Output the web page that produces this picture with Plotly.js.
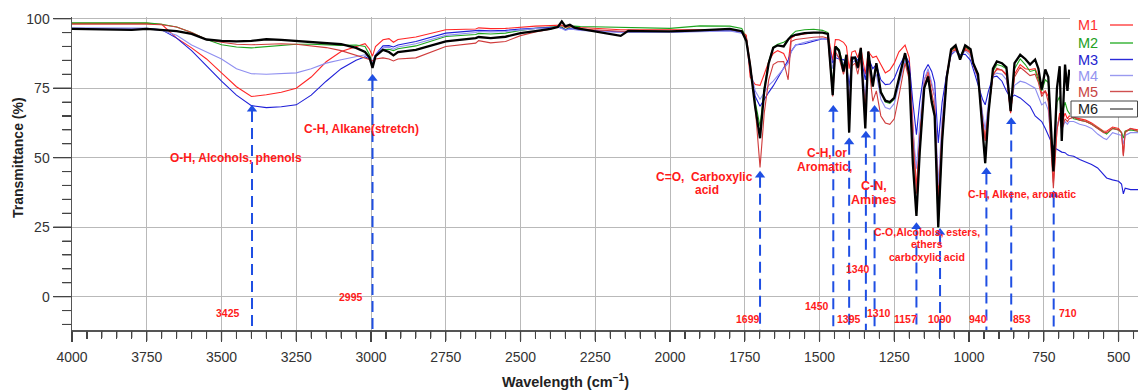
<!DOCTYPE html>
<html><head><meta charset="utf-8">
<script src="https://cdn.plot.ly/plotly-3.0.1.min.js"></script>
<style>html,body{margin:0;padding:0;background:#fff}#chart{width:1138px;height:390px}</style>
</head><body><div id="chart"></div>
<script>
// ---------------- DATA ----------------
const WAVENUMBER = [
 4000, 3900, 3800, 3750, 3700, 3650, 3600, 3550, 3500, 3450,
 3400, 3350, 3300, 3250, 3200, 3150, 3100, 3050, 3020, 3005,
 2995, 2985, 2960, 2940, 2925, 2910, 2850, 2750, 2650, 2640,
 2600, 2550, 2500, 2450, 2400, 2375, 2362, 2350, 2335, 2320,
 2300, 2165, 2140, 2100, 2000, 1900, 1800, 1760,
 1745, 1732, 1715, 1699, 1685, 1670, 1655, 1640, 1620, 1605,
 1595, 1580, 1550, 1520, 1490, 1472, 1456, 1447, 1435, 1420,
 1410, 1401, 1392, 1381, 1372, 1362, 1347, 1337, 1322, 1310,
 1295, 1280, 1265, 1250, 1235, 1214, 1200, 1188, 1176, 1165,
 1150, 1137, 1125, 1115, 1103, 1090, 1075, 1060, 1045, 1030,
 1013, 995, 986, 970, 955, 946, 935, 920, 907, 890,
 875, 861, 848, 829, 812, 796, 779, 768, 757, 745,
 735, 718, 706, 697, 690, 679, 671, 665,
 650, 630, 610, 590, 570, 550, 540, 520, 500, 490, 484, 478, 460, 435
];
const M1 = [
 98.3, 98.3, 98.4, 98.3, 98.0, 93.0, 89.5, 85.5, 80.5, 75.5,
 72.0, 72.6, 73.5, 75.0, 79.0, 84.5, 88.2, 90.0, 91.0, 89.0,
 86.5, 90.0, 92.4, 92.8, 91.5, 92.5, 93.4, 96.0, 96.3, 96.7,
 96.4, 96.5, 97.0, 97.3, 97.5, 97.8, 97.7, 97.2, 97.4, 97.0,
 96.8, 96.0, 96.0, 95.8, 95.8, 96.0, 96.2, 95.5,
 94.0, 79.0, 76.3, 76.0, 80.0, 84.5, 87.5, 88.5, 87.5, 84.0,
 93.0, 94.0, 94.5, 95.0, 95.0, 94.5, 85.0, 92.5, 92.4, 91.5,
 90.0, 82.0, 88.0, 88.5, 86.0, 89.5, 80.0, 88.2, 86.0, 86.5,
 83.5, 80.5, 81.5, 84.0, 88.0, 90.5, 86.0, 62.0, 39.0, 58.0,
 78.0, 81.0, 76.0, 72.0, 35.0, 62.0, 80.0, 88.5, 89.5, 86.5,
 89.5, 88.0, 84.0, 80.0, 65.0, 56.0, 68.0, 80.0, 81.7, 81.5,
 80.0, 66.0, 80.0, 83.5, 82.0, 81.7, 82.0, 79.0, 73.0, 74.0,
 72.0, 41.0, 60.0, 66.0, 62.0, 66.0, 64.0, 65.0,
 64.5, 64.0, 63.5, 62.5, 61.0, 59.5, 59.5, 61.0, 60.5, 59.0, 51.0, 59.5, 60.5, 60.0
];
const M2 = [
 98.5, 98.5, 98.6, 98.5, 98.0, 97.0, 95.0, 92.5, 90.6, 89.8,
 89.5, 90.0, 90.3, 90.8, 90.8, 90.6, 90.4, 90.5, 90.0, 87.0,
 84.0, 86.5, 88.8, 89.0, 88.5, 89.2, 90.2, 93.6, 94.3, 94.7,
 94.5, 94.8, 95.8, 96.5, 96.8, 97.2, 97.0, 96.0, 97.0, 97.3,
 97.2, 96.8, 96.9, 96.8, 96.5, 97.4, 97.3, 96.5,
 93.0, 83.0, 70.0, 61.3, 75.0, 84.5, 89.8, 90.8, 91.5, 92.5,
 94.0, 95.5, 96.0, 96.2, 95.8, 95.0, 76.0, 90.0, 89.0, 83.0,
 87.0, 62.0, 85.0, 86.0, 82.0, 88.5, 63.0, 87.5, 76.0, 84.0,
 74.0, 70.0, 69.5, 71.0, 78.0, 87.0, 80.0, 50.0, 30.0, 52.0,
 75.0, 79.0, 71.0, 66.0, 24.8, 56.0, 78.0, 88.5, 90.0, 86.5,
 90.0, 88.5, 84.0, 80.0, 60.0, 48.0, 66.0, 81.0, 83.5, 83.0,
 82.0, 67.0, 82.0, 85.5, 83.5, 81.0, 81.5, 78.0, 74.0, 78.0,
 77.0, 46.0, 70.0, 72.0, 65.0, 70.0, 67.0, 66.0,
 64.0, 63.5, 63.0, 62.0, 60.5, 59.0, 58.5, 60.5, 60.0, 59.0, 57.0, 59.5, 60.0, 59.5
];
const M3 = [
 96.5, 96.5, 96.6, 96.5, 96.0, 93.0, 88.5, 83.0, 77.5, 72.5,
 68.7, 68.0, 68.3, 69.0, 72.5, 77.5, 82.0, 85.0, 86.3, 85.5,
 84.5, 87.0, 90.2, 90.3, 89.8, 90.5, 91.8, 94.8, 95.5, 95.8,
 95.6, 95.8, 96.3, 96.6, 96.8, 97.0, 96.6, 96.0, 96.4, 96.2,
 96.0, 95.2, 95.3, 95.3, 95.2, 95.5, 95.8, 95.0,
 93.0, 82.0, 72.0, 68.5, 71.0, 73.5, 75.8, 78.5, 82.3, 85.0,
 88.2, 90.5, 91.0, 92.0, 92.8, 92.5, 84.0, 86.0, 85.5, 85.3,
 84.0, 75.6, 85.0, 86.3, 85.0, 86.5, 78.0, 86.0, 82.0, 83.5,
 78.0, 76.3, 76.5, 78.5, 82.5, 87.0, 84.0, 70.0, 58.3, 70.0,
 81.0, 83.5, 81.0, 77.0, 55.3, 70.0, 80.0, 87.0, 88.5, 87.0,
 87.2, 85.0, 82.0, 76.0, 71.0, 69.0, 74.0, 79.0, 79.3, 77.5,
 74.0, 71.5, 72.5, 71.5, 70.0, 68.5, 65.0, 64.0, 63.0, 60.5,
 58.0, 54.0, 53.0, 52.3, 52.0, 51.8, 51.0, 50.8,
 50.5, 49.3, 48.5, 47.5, 46.3, 44.0, 42.7, 42.0, 41.5, 40.5, 37.0, 39.0, 38.5, 38.5
];
const M4 = [
 96.6, 96.6, 96.6, 96.4, 95.8, 94.0, 90.5, 88.0, 85.5, 82.0,
 80.2, 80.0, 80.2, 80.5, 82.0, 84.0, 85.2, 86.3, 87.0, 86.0,
 84.5, 86.8, 89.5, 89.7, 89.0, 89.8, 91.0, 94.0, 95.0, 95.4,
 95.2, 95.4, 96.0, 96.4, 96.6, 96.9, 96.5, 95.8, 96.3, 96.0,
 95.8, 95.0, 95.1, 95.1, 95.0, 95.3, 95.6, 94.8,
 92.5, 82.0, 74.0, 71.0, 73.5, 76.0, 77.5, 79.5, 82.0, 84.0,
 88.0, 90.5, 91.5, 92.3, 92.8, 92.5, 82.0, 87.0, 86.0, 84.0,
 84.0, 72.0, 84.0, 85.0, 82.0, 86.0, 72.0, 85.0, 78.0, 80.0,
 71.0, 68.0, 67.5, 69.5, 76.0, 85.0, 79.0, 60.0, 46.0, 62.0,
 78.0, 82.0, 77.0, 72.0, 40.0, 64.0, 79.0, 87.5, 88.5, 86.0,
 88.5, 86.5, 83.0, 78.0, 66.0, 60.0, 70.0, 79.5, 80.4, 80.0,
 78.0, 69.0, 76.0, 77.5, 77.0, 76.0, 75.0, 72.0, 69.0, 70.0,
 67.0, 47.0, 62.0, 64.0, 60.0, 63.0, 62.0, 63.0,
 63.0, 62.0, 61.5, 60.5, 58.5, 57.0, 56.5, 59.0, 58.5, 58.0, 55.0, 58.0, 59.0, 59.0
];
const M5 = [
 98.0, 98.0, 98.1, 98.0, 97.8, 97.0, 95.0, 92.5, 91.5, 90.8,
 90.6, 90.8, 91.0, 90.8, 90.3, 89.6, 88.5, 86.8, 86.0, 85.3,
 84.8, 85.5, 85.9, 85.5, 84.8, 85.5, 85.9, 90.0, 91.2, 92.1,
 91.3, 91.8, 93.9, 95.2, 96.2, 97.3, 97.5, 96.8, 97.2, 96.8,
 96.3, 95.5, 95.6, 95.5, 95.4, 95.8, 96.2, 95.3,
 93.5, 84.0, 68.0, 46.5, 66.0, 78.0, 83.5, 84.5, 84.6, 78.0,
 91.8, 92.5, 93.0, 93.3, 93.5, 93.0, 72.0, 88.0, 86.0, 80.0,
 84.0, 66.0, 83.0, 84.0, 80.0, 86.0, 68.0, 85.0, 70.3, 74.0,
 65.0, 62.5, 62.0, 64.0, 72.0, 84.0, 78.0, 56.0, 37.0, 56.0,
 76.0, 80.0, 73.0, 68.0, 34.0, 60.0, 78.0, 88.0, 89.0, 86.0,
 89.0, 87.5, 83.5, 79.0, 62.0, 57.0, 67.0, 79.5, 82.2, 81.5,
 79.5, 66.5, 79.0, 82.5, 81.0, 79.5, 80.0, 77.0, 72.0, 74.0,
 70.0, 39.0, 60.0, 65.0, 60.0, 64.0, 63.0, 64.0,
 64.5, 63.5, 63.0, 62.0, 60.5, 59.0, 59.0, 60.5, 60.0, 59.0, 50.5, 59.0, 60.5, 59.5
];
const M6 = [
 96.3, 96.2, 96.0, 96.3, 96.0, 95.5, 94.5, 92.5, 92.0, 91.8,
 92.0, 92.6, 92.4, 92.0, 91.5, 91.2, 90.8, 89.5, 88.0, 86.0,
 82.3, 86.5, 88.8, 88.0, 86.8, 88.0, 88.8, 91.8, 93.0, 93.4,
 93.0, 93.5, 94.8, 95.5, 96.3, 97.0, 99.0, 97.2, 97.8, 96.8,
 96.3, 93.8, 95.6, 95.5, 95.4, 95.8, 96.3, 95.5,
 92.0, 83.0, 68.0, 57.0, 74.0, 84.0, 89.5, 90.4, 90.0, 92.5,
 93.6, 94.2, 94.8, 95.0, 95.0, 94.5, 72.5, 90.0, 88.5, 81.0,
 87.0, 59.0, 86.0, 86.0, 82.4, 89.5, 60.5, 88.2, 75.6, 84.0,
 73.5, 70.5, 70.0, 71.5, 78.0, 87.6, 80.0, 48.0, 29.0, 52.0,
 75.0, 79.2, 70.0, 65.0, 25.0, 56.0, 78.6, 89.0, 90.4, 85.3,
 90.4, 89.0, 84.0, 80.0, 60.0, 48.0, 66.0, 82.0, 84.6, 84.0,
 82.5, 66.7, 84.0, 87.0, 85.5, 83.5, 85.3, 82.0, 74.5, 81.7,
 79.0, 45.0, 75.0, 82.9, 56.0, 83.5, 74.0, 81.7,
 null, null, null, null, null, null, null, null, null, null, null, null, null, null
];
const SERIES_NAMES = ['M1', 'M2', 'M3', 'M4', 'M5', 'M6'];
const PEAK_LABELS = ['3425', '2995', '1699', '1450', '1395', '1340', '1310', '1157', '1090', '940', '853', '710'];
const PEAK_POSITIONS = [3398, 2995, 1699, 1454, 1401, 1345, 1316, 1176, 1097, 942, 859, 717];
const PEAK_TIPS = [68.8, 79.9, 45.1, 68.7, 57.0, 59.5, 68.7, 26.5, 24.5, 46.3, 64.3, 38.0];
const BAND_NOTES = ['O-H, Alcohols, phenols', 'C-H, Alkane(stretch)', 'C=O,\u00a0 Carboxylic', 'acid',
  'C-H, or', 'Aromatic,', 'C-N,', 'Amines', 'C-O,Alcohols, esters,', 'ethers', 'carboxylic acid',
  'C-H, Alkene, aromatic'];
const X_TITLE = 'Wavelength (cm<sup>\u22121</sup>)';
const Y_TITLE = 'Transmittance (%)';

// ---------------- STYLE / LAYOUT ----------------
const FONT = 'Arial, "Liberation Sans", Helvetica, sans-serif';
const COLORS = ['#ff2626', '#1fa51f', '#1f1fd8', '#8e8ef0', '#d03c3c', '#000000'];
const LEGEND_TEXT = ['#ff3030', '#22a022', '#2323d0', '#9494f0', '#c84444', '#222222'];
const LEGEND_LINE = ['#ff4040', '#30b030', '#2a2ad8', '#9a9af0', '#d05050', '#555555'];
const WIDTHS = [1.1, 1.1, 1.1, 1.1, 1.1, 2.3];
const ARROW = '#1f4fe3';
const NOTE_RED = '#ff1a1a';
const TICK = '#444';

const L = 72, PW = 1066, T = 17, PH = 313;
const X_RANGE = [4000, 435], Y_RANGE = [-12, 100.6];
const xp = px => (px - L) / PW;
const yp = py => (T + PH - py) / PH;

const traces = [M1, M2, M3, M4, M5, M6].map((ys, i) => ({
  type: 'scatter', mode: 'lines', x: WAVENUMBER, y: ys, name: SERIES_NAMES[i],
  line: {color: COLORS[i], width: WIDTHS[i]}, hoverinfo: 'skip', showlegend: false
}));

const arrowX = [], arrowY = [];
PEAK_POSITIONS.forEach((p, i) => { arrowX.push(p, p, null); arrowY.push(PEAK_TIPS[i] - 2, -12, null); });
traces.push({type: 'scatter', mode: 'lines', x: arrowX, y: arrowY,
  line: {color: ARROW, width: 2, dash: '11px,6px'}, hoverinfo: 'skip', showlegend: false});
traces.push({type: 'scatter', mode: 'markers', x: PEAK_POSITIONS, y: PEAK_TIPS.map(t => t - 1.4),
  marker: {symbol: 'triangle-up', size: 9, color: ARROW}, hoverinfo: 'skip', showlegend: false});

const annotations = [];
const notePos = [
  [3451, 49.9, 12], [3033, 60.3, 12], [1886, 43.2, 12], [1876, 38.4, 12],
  [1475, 51.8, 12], [1482, 46.8, 12], [1318, 39.9, 12.5], [1318, 34.9, 12.5],
  [1140, 23.4, 10.5], [1140, 18.9, 10.5], [1140, 14.4, 10.5], [824, 36.8, 10.5]
];
BAND_NOTES.forEach((t, i) => annotations.push({
  x: notePos[i][0], y: notePos[i][1], xref: 'x', yref: 'y', text: '<b>' + t + '</b>', showarrow: false,
  font: {family: FONT, size: notePos[i][2], color: NOTE_RED}, xanchor: 'center', yanchor: 'middle'
}));
const labelPos = [[3479, -5.8], [3067, 0], [1740, -8], [1509, -3.4], [1400, -7.9], [1370, 9.8],
  [1300, -5.8], [1214, -7.9], [1097, -7.9], [969, -7.9], [824, -7.9], [668, -6]];
PEAK_LABELS.forEach((t, i) => annotations.push({
  x: labelPos[i][0], y: labelPos[i][1], xref: 'x', yref: 'y', text: '<b>' + t + '</b>', showarrow: false,
  font: {family: FONT, size: 10.5, color: NOTE_RED}, xanchor: 'center', yanchor: 'middle'
}));
annotations.push({x: xp(565), y: yp(381), xref: 'paper', yref: 'paper', text: '<b>' + X_TITLE + '</b>',
  showarrow: false, font: {family: FONT, size: 14.5, color: '#222'}, xanchor: 'center', yanchor: 'middle'});
annotations.push({x: xp(18), y: yp(158), xref: 'paper', yref: 'paper', text: '<b>' + Y_TITLE + '</b>',
  showarrow: false, textangle: -90, font: {family: FONT, size: 14, color: '#222'}, xanchor: 'center', yanchor: 'middle'});

// legend (text left, line sample right)
const shapes = [{type: 'rect', xref: 'paper', yref: 'paper', x0: xp(1070), x1: 1.0, y0: yp(117), y1: yp(8),
  fillcolor: '#ffffff', line: {width: 0}, layer: 'above'}];
const rowY = [25, 43, 59.5, 75.5, 91.5, 109];
SERIES_NAMES.forEach((n, i) => {
  annotations.push({x: xp(1076), y: yp(rowY[i]), xref: 'paper', yref: 'paper', text: n, showarrow: false,
    font: {family: FONT, size: 14.5, color: LEGEND_TEXT[i]}, xanchor: 'left', yanchor: 'middle'});
  shapes.push({type: 'line', xref: 'paper', yref: 'paper', x0: xp(1110), x1: xp(1133), y0: yp(rowY[i]), y1: yp(rowY[i]),
    line: {color: LEGEND_LINE[i], width: 1.4}, layer: 'above'});
});
shapes.push({type: 'rect', xref: 'paper', yref: 'paper', x0: xp(1071), x1: xp(1137.5), y0: yp(117), y1: yp(101),
  fillcolor: 'rgba(0,0,0,0)', line: {color: '#444', width: 1}, layer: 'above'});

// explicit tick marks (drawn at the axis tick positions, outside the plot frame)
const wnToPaper = w => (X_RANGE[0] - w) / (X_RANGE[0] - X_RANGE[1]);
const valToPaper = v => (v - Y_RANGE[0]) / (Y_RANGE[1] - Y_RANGE[0]);
for (let w = 4000; w >= 450; w -= 50) {
  const major = w % 250 === 0, len = major ? 10 : 7;
  shapes.push({type: 'line', xref: 'paper', yref: 'paper', x0: wnToPaper(w), x1: wnToPaper(w),
    y0: -0.75 / PH, y1: -(len + 0.75) / PH, line: {color: TICK, width: major ? 1.3 : 1.1}, layer: 'above'});
}
for (let v = -10; v <= 100; v += 5) {
  const major = v % 25 === 0, len = major ? 18 : 9;
  shapes.push({type: 'line', xref: 'paper', yref: 'paper', x0: -0.75 / PW, x1: -(len + 0.75) / PW,
    y0: valToPaper(v), y1: valToPaper(v), line: {color: TICK, width: major ? 1.3 : 1.1}, layer: 'above'});
}

const layout = {
  width: 1138, height: 390, margin: {l: L, r: 0, t: T, b: 390 - T - PH},
  paper_bgcolor: '#fff', plot_bgcolor: '#fff', showlegend: false,
  xaxis: {
    range: X_RANGE, autorange: false, tickmode: 'linear', tick0: 500, dtick: 250,
    showgrid: true, gridcolor: '#b9b9b9', gridwidth: 1, zeroline: false,
    showline: true, linecolor: '#555', linewidth: 1.5,
    ticks: 'outside', ticklen: 10, tickwidth: 1.3, tickcolor: TICK, ticklabelstandoff: 4,
    tickfont: {family: FONT, size: 14, color: '#333'},
    minor: {dtick: 50, ticks: 'outside', ticklen: 7, tickcolor: TICK, tickwidth: 1.1, showgrid: false}
  },
  yaxis: {
    range: Y_RANGE, autorange: false, tickmode: 'linear', tick0: 0, dtick: 25,
    showgrid: true, gridcolor: '#b9b9b9', gridwidth: 1, zeroline: false,
    showline: true, linecolor: '#555', linewidth: 1.5,
    ticks: 'outside', ticklen: 18, tickwidth: 1.3, tickcolor: TICK,
    tickfont: {family: FONT, size: 14, color: '#333'},
    minor: {dtick: 5, ticks: 'outside', ticklen: 9, tickcolor: TICK, tickwidth: 1.1, showgrid: false}
  },
  annotations: annotations, shapes: shapes
};
Plotly.newPlot('chart', traces, layout, {staticPlot: true, displayModeBar: false});
</script></body></html>
